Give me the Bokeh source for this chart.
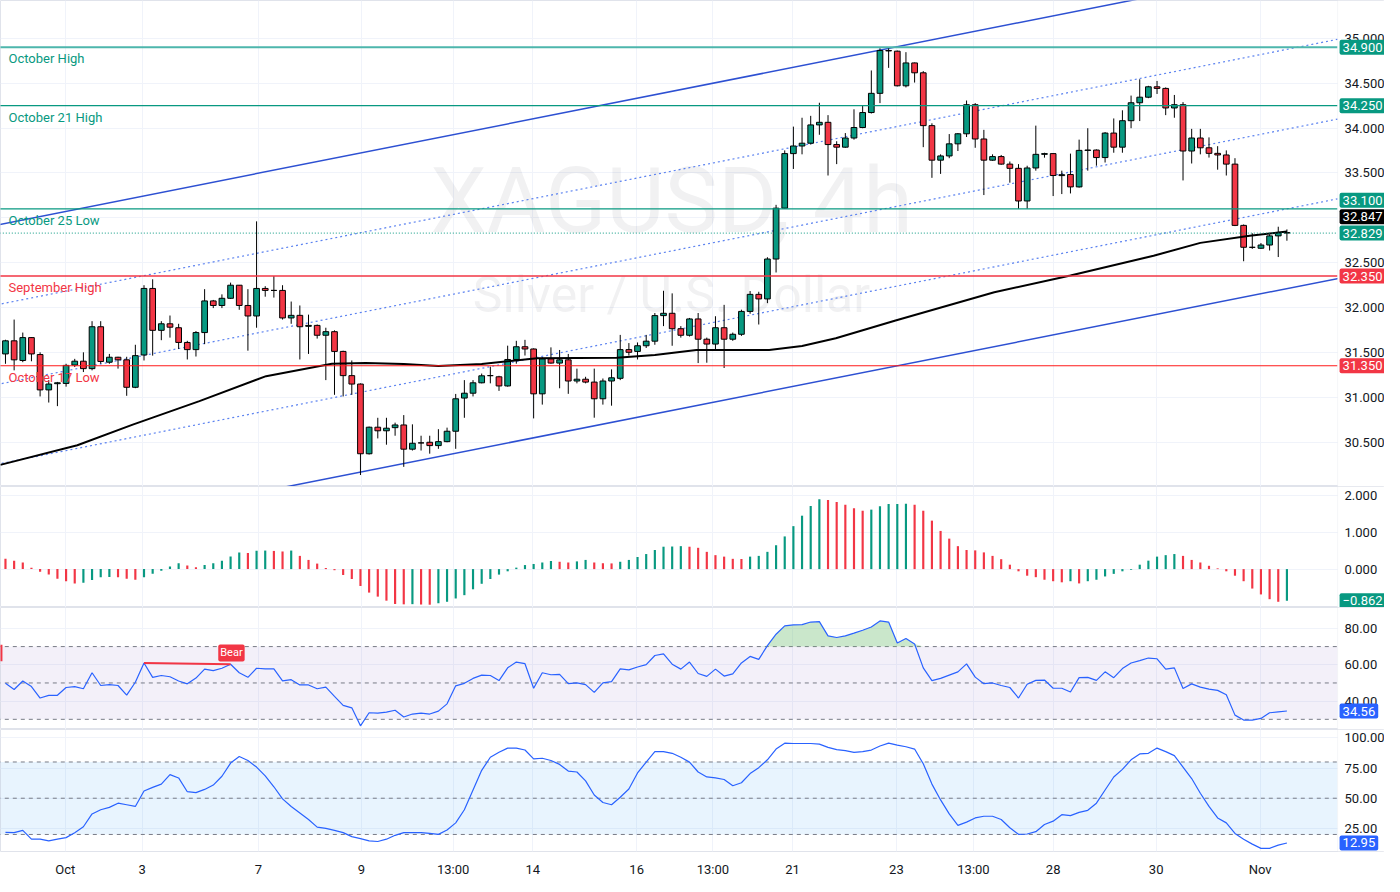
import numpy as np
from bokeh.plotting import figure
from bokeh.layouts import column
from bokeh.models import (Range1d, FixedTicker, Label, BoxAnnotation,
                          ColumnDataSource, NumeralTickFormatter)
from bokeh.embed import file_html
from bokeh.resources import INLINE

# ---------------- data (XAGUSD 4h) ----------------
opens = [31.482, 31.628, 31.409, 31.664, 31.475, 31.081, 31.15, 31.153, 31.358, 31.401,
         31.318, 31.785, 31.39, 31.445, 31.416, 31.11, 31.47, 32.212, 31.745, 31.818,
         31.774, 31.61, 31.53, 31.72, 32.073, 32.022, 32.102, 32.248, 32.022, 31.905,
         32.212, 32.19, 32.19, 31.883, 31.912, 31.79, 31.80, 31.69, 31.73, 31.51,
         31.24, 31.146, 30.369, 30.665, 30.625, 30.66, 30.69, 30.42, 30.49, 30.497,
         30.46, 30.504, 30.62, 30.99, 31.044, 31.16, 31.24, 31.227, 31.125, 31.42,
         31.562, 31.537, 31.037, 31.427, 31.38, 31.416, 31.18, 31.2, 31.168, 30.982,
         31.18, 31.21, 31.53, 31.51, 31.573, 31.624, 31.909, 31.935, 31.763, 31.69,
         31.872, 31.646, 31.592, 31.774, 31.646, 31.701, 31.956, 32.146, 32.095, 32.54,
         33.107, 33.715, 33.80, 33.831, 34.035, 34.064, 33.816, 33.787, 33.889, 34.006,
         34.173, 34.387, 34.864, 34.857, 34.471, 34.726, 34.616, 34.027, 33.642, 33.689,
         33.824, 33.936, 34.26, 33.878, 33.642, 33.682, 33.598, 33.551, 33.187, 33.555,
         33.707, 33.715, 33.47, 33.482, 33.344, 33.751, 33.755, 33.671, 33.944, 33.787,
         34.082, 34.282, 34.344, 34.46, 34.442, 34.224, 34.26, 33.744, 33.889, 33.78,
         33.718, 33.70, 33.598, 32.915, 32.671, 32.66, 32.696, 32.798, 32.835]
highs = [31.64, 31.865, 31.72, 31.67, 31.50, 31.19, 31.17, 31.372, 31.427, 31.50,
         31.847, 31.847, 31.482, 31.45, 31.45, 31.584, 32.248, 32.314, 31.847, 31.91,
         31.818, 31.628, 31.737, 32.204, 32.084, 32.146, 32.277, 32.25, 32.204, 32.96,
         32.237, 32.35, 32.248, 32.066, 32.022, 31.92, 31.81, 31.774, 31.745, 31.518,
         31.409, 31.153, 30.672, 30.77, 30.77, 30.716, 30.80, 30.697, 30.57, 30.57,
         30.643, 30.66, 31.036, 31.19, 31.19, 31.263, 31.34, 31.238, 31.574, 31.628,
         31.639, 31.544, 31.446, 31.555, 31.526, 31.482, 31.318, 31.227, 31.318, 31.208,
         31.31, 31.694, 31.603, 31.61, 31.694, 31.938, 32.186, 32.157, 31.792, 31.883,
         31.938, 31.664, 31.902, 32.029, 31.72, 31.975, 32.183, 32.175, 32.56, 33.144,
         33.751, 34.016, 34.115, 34.136, 34.282, 34.144, 33.853, 33.944, 34.209, 34.253,
         34.642, 34.89, 34.89, 34.864, 34.846, 34.73, 34.635, 34.053, 33.707, 33.933,
         33.944, 34.307, 34.278, 33.98, 33.707, 33.70, 33.627, 33.598, 33.58, 34.027,
         33.725, 33.72, 33.525, 33.715, 33.871, 33.998, 33.762, 33.955, 34.107, 34.198,
         34.362, 34.544, 34.471, 34.525, 34.453, 34.369, 34.289, 33.991, 33.991, 33.896,
         33.798, 33.751, 33.664, 32.925, 32.827, 32.718, 32.816, 32.90, 32.87]
lows = [31.372, 31.299, 31.39, 31.40, 31.008, 30.94, 30.90, 31.117, 31.336, 31.28,
        31.299, 31.372, 31.372, 31.318, 31.015, 31.10, 31.409, 31.463, 31.635, 31.664,
        31.537, 31.42, 31.453, 31.591, 31.993, 31.993, 32.095, 31.974, 31.518, 31.774,
        32.12, 32.11, 31.865, 31.818, 31.42, 31.482, 31.653, 31.19, 31.026, 31.008,
        31.026, 30.132, 30.36, 30.54, 30.47, 30.57, 30.223, 30.405, 30.405, 30.37,
        30.424, 30.497, 30.424, 30.77, 31.008, 31.154, 31.154, 31.07, 31.117, 31.373,
        31.464, 30.763, 30.917, 31.373, 31.099, 31.037, 31.154, 31.154, 30.771, 30.917,
        30.905, 31.19, 31.464, 31.42, 31.548, 31.584, 31.792, 31.573, 31.664, 31.676,
        31.38, 31.384, 31.519, 31.325, 31.628, 31.683, 31.93, 31.81, 32.048, 32.39,
        33.10, 33.544, 33.707, 33.816, 33.925, 33.471, 33.598, 33.78, 33.871, 33.998,
        34.162, 34.278, 34.671, 34.464, 34.453, 34.507, 33.787, 33.445, 33.489, 33.664,
        33.744, 33.90, 33.78, 33.253, 33.635, 33.591, 33.391, 33.10, 33.10, 33.525,
        33.67, 33.242, 33.264, 33.271, 33.336, 33.525, 33.58, 33.616, 33.725, 33.725,
        33.998, 34.078, 34.333, 34.38, 34.144, 34.115, 33.416, 33.605, 33.707, 33.671,
        33.536, 33.471, 32.907, 32.515, 32.653, 32.653, 32.635, 32.562, 32.744]
closes = [31.628, 31.416, 31.664, 31.482, 31.081, 31.146, 31.16, 31.354, 31.401, 31.318,
          31.785, 31.398, 31.445, 31.416, 31.11, 31.463, 32.212, 31.745, 31.818, 31.78,
          31.61, 31.53, 31.72, 32.073, 32.022, 32.102, 32.248, 32.022, 31.905, 32.212,
          32.19, 32.19, 31.883, 31.912, 31.785, 31.80, 31.69, 31.73, 31.51, 31.24,
          31.146, 30.369, 30.665, 30.625, 30.654, 30.69, 30.42, 30.486, 30.49, 30.46,
          30.504, 30.62, 30.982, 31.044, 31.16, 31.238, 31.24, 31.125, 31.42, 31.562,
          31.537, 31.037, 31.427, 31.38, 31.416, 31.18, 31.2, 31.168, 30.982, 31.18,
          31.216, 31.53, 31.50, 31.573, 31.624, 31.909, 31.935, 31.763, 31.69, 31.872,
          31.646, 31.592, 31.774, 31.646, 31.701, 31.956, 32.146, 32.095, 32.54, 33.107,
          33.715, 33.80, 33.831, 34.035, 34.064, 33.816, 33.787, 33.889, 34.006, 34.173,
          34.387, 34.864, 34.86, 34.471, 34.726, 34.616, 34.027, 33.642, 33.689, 33.824,
          33.936, 34.26, 33.878, 33.642, 33.682, 33.598, 33.551, 33.187, 33.555, 33.707,
          33.715, 33.471, 33.48, 33.344, 33.751, 33.755, 33.671, 33.944, 33.787, 34.082,
          34.282, 34.344, 34.46, 34.442, 34.224, 34.26, 33.744, 33.889, 33.78, 33.718,
          33.70, 33.598, 32.915, 32.671, 32.67, 32.696, 32.798, 32.835, 32.829]

macd_hist = [0.28, 0.23, 0.18, 0.04, -0.07, -0.15, -0.26, -0.33, -0.39, -0.375,
             -0.30, -0.22, -0.215, -0.22, -0.26, -0.29, -0.22, -0.13, -0.045, 0.07,
             0.16, 0.10, 0.05, 0.11, 0.16, 0.23, 0.34, 0.45, 0.44, 0.50,
             0.505, 0.495, 0.48, 0.505, 0.36, 0.25, 0.15, 0.03, -0.03, -0.16,
             -0.27, -0.46, -0.64, -0.75, -0.86, -0.95, -0.96, -0.955, -0.965, -0.97,
             -0.93, -0.89, -0.80, -0.71, -0.55, -0.40, -0.27, -0.15, -0.06, 0.04,
             0.11, 0.14, 0.18, 0.22, 0.20, 0.18, 0.21, 0.25, 0.18, 0.16,
             0.155, 0.20, 0.25, 0.33, 0.41, 0.52, 0.61, 0.615, 0.625, 0.61,
             0.58, 0.47, 0.38, 0.34, 0.28, 0.275, 0.34, 0.36, 0.47, 0.65,
             0.89, 1.17, 1.455, 1.72, 1.90, 1.88, 1.83, 1.75, 1.66, 1.59,
             1.62, 1.71, 1.77, 1.775, 1.78, 1.75, 1.59, 1.32, 1.04, 0.83,
             0.625, 0.52, 0.51, 0.455, 0.36, 0.27, 0.12, -0.06, -0.18, -0.22,
             -0.29, -0.33, -0.36, -0.33, -0.39, -0.33, -0.29, -0.20, -0.13, -0.06,
             -0.02, 0.12, 0.23, 0.34, 0.38, 0.41, 0.36, 0.25, 0.18, 0.09,
             0.02, -0.06, -0.18, -0.33, -0.53, -0.69, -0.82, -0.89, -0.862]

rsi = [49.8, 46.4, 51.1, 48.0, 41.7, 43.2, 43.2, 47.5, 48.0, 46.8,
       55.6, 48.6, 49.1, 48.6, 43.3, 50.4, 61.0, 53.1, 54.1, 53.4,
       51.1, 49.5, 52.7, 57.6, 56.8, 58.1, 60.3, 55.6, 53.1, 58.1,
       57.7, 57.7, 51.1, 51.8, 48.9, 48.9, 46.8, 47.7, 42.6, 37.7,
       36.3, 26.4, 33.6, 33.4, 34.0, 35.0, 31.3, 32.9, 33.4, 32.9,
       34.5, 38.5, 48.4, 49.8, 52.5, 54.3, 54.1, 51.3, 58.3, 61.5,
       60.6, 47.1, 55.6, 54.5, 54.7, 49.6, 50.0, 49.1, 44.8, 50.0,
       50.7, 57.7, 57.2, 58.8, 60.1, 65.1, 66.0, 60.3, 57.6, 61.5,
       55.2, 53.6, 57.6, 53.8, 55.0, 61.0, 64.6, 63.0, 70.5, 76.8,
       81.4, 81.9, 82.1, 83.5, 83.7, 75.9, 75.0, 75.9, 77.4, 79.0,
       80.8, 84.1, 83.5, 72.0, 74.5, 71.4, 58.3, 51.3, 52.5, 54.3,
       56.1, 60.5, 53.2, 49.6, 50.0, 48.6, 47.5, 41.7, 49.3, 51.4,
       51.6, 47.1, 47.1, 45.0, 52.9, 53.1, 51.4, 56.1, 52.9, 57.9,
       61.0, 62.3, 63.7, 63.3, 57.6, 58.3, 46.9, 49.5, 47.7, 46.6,
       45.9, 43.5, 32.3, 29.6, 29.6, 30.5, 33.6, 34.1, 34.56]

stoch_k = [21.8, 21.5, 23.4, 16.1, 16.1, 14.7, 16.1, 17.4, 21.5, 26.4,
           37.0, 40.5, 42.4, 45.9, 44.6, 43.2, 56.0, 59.0, 61.7, 69.5,
           66.8, 55.4, 54.6, 57.3, 60.9, 68.2, 79.1, 84.5, 81.2, 75.8,
           68.5, 59.5, 49.5, 43.2, 37.8, 32.4, 26.1, 25.0, 23.4, 21.5,
           18.2, 16.6, 14.7, 14.2, 16.1, 19.3, 21.5, 21.5, 21.5, 20.9,
           20.1, 23.7, 29.6, 40.5, 56.8, 73.1, 83.9, 88.0, 91.5, 91.5,
           89.9, 82.6, 83.1, 81.2, 78.0, 72.5, 71.7, 64.4, 52.7, 46.5,
           44.6, 50.8, 57.6, 70.9, 79.9, 88.6, 88.6, 87.2, 83.9, 79.9,
           71.7, 67.6, 66.8, 65.5, 60.3, 62.8, 70.4, 75.3, 81.8, 90.7,
           95.6, 95.3, 95.3, 95.3, 94.8, 92.1, 90.2, 89.4, 88.0, 88.6,
           89.9, 93.2, 95.6, 94.0, 92.6, 90.7, 78.5, 61.7, 48.6, 37.0,
           27.5, 30.2, 33.7, 35.1, 35.1, 32.4, 25.6, 20.1, 20.4, 22.3,
           28.3, 31.0, 36.4, 35.6, 38.3, 40.0, 45.9, 56.8, 67.6, 73.9,
           81.8, 86.7, 87.2, 91.5, 88.6, 85.3, 75.8, 66.3, 54.1, 43.2,
           33.7, 29.6, 20.9, 16.1, 12.0, 8.5, 8.5, 11.2, 12.95]

# moving average read at sample bars
ma_idx = [-0.6, 8.3, 14.7, 22.4, 30.1, 37.7, 41.6, 46, 50, 55, 61.4, 70.6, 75, 79.8,
          88.2, 92, 95.9, 99.5, 102.8, 114.2, 123, 132.6, 138, 143.7, 148]
ma_val = [30.245, 30.464, 30.694, 30.956, 31.234, 31.372, 31.38, 31.37, 31.347, 31.37,
          31.434, 31.438, 31.47, 31.526, 31.526, 31.57, 31.657, 31.76, 31.854, 32.17,
          32.357, 32.576, 32.72, 32.80, 32.847]

# horizontal levels
level_prices = [34.90, 34.25, 33.10, 32.35, 31.35]
level_names = ["October High", "October 21 High", "October 25 Low", "September High", "October 17 Low"]
last_price = 32.829
ma_last = 32.847

# regression channel (upper line endpoints, width, sub-levels)
channel_idx = [-1, 160]
channel_upper = [32.919, 35.996]
channel_width = 3.557
channel_levels = [0.0, 0.25, 0.5, 0.75, 1.0]

# RSI bearish divergence
div_idx = [16, 26]
div_val = [61.0, 60.3]

x_tick_idx = [6.9, 15.8, 29.2, 41.1, 51.7, 60.9, 72.9, 81.7, 90.9, 102.9, 111.8, 121.0, 132.9, 144.9]
x_tick_labels = ["Oct", "3", "7", "9", "13:00", "14", "16", "13:00", "21", "23", "13:00", "28", "30", "Nov"]

# ---------------- styling ----------------
FONT = "Roboto"
TEXT = "#131722"
GRID = "#f0f3fa"
SEP = "#e0e3eb"
UP = "#089981"
DOWN = "#f23645"
BLUE = "#2962ff"
FW = 1384            # frame covers plot area + price-scale strip
XE = 153.85          # right edge of the plotting area (bar units)

N = len(closes)
idx = np.arange(N)
xr = Range1d(-0.574, 159.27)


def panel(h, y0, y1, ticks, fmt, bottom_axis=False):
    p = figure(frame_width=FW, frame_height=h, x_range=xr, y_range=Range1d(y0, y1),
               output_backend="svg", toolbar_location=None, tools="",
               y_axis_location="right",
               x_axis_location="below" if bottom_axis else None,
               min_border=0)
    p.outline_line_color = SEP
    p.background_fill_color = "white"
    p.border_fill_color = "white"
    ax = p.yaxis[0]
    ax.fixed_location = XE
    ax.ticker = FixedTicker(ticks=ticks)
    ax.formatter = NumeralTickFormatter(format=fmt)
    ax.axis_line_color = None
    ax.major_tick_line_color = None
    ax.minor_tick_line_color = None
    ax.major_tick_out = 0
    ax.major_tick_in = 0
    ax.major_label_standoff = 7
    ax.major_label_text_font = FONT
    ax.major_label_text_font_size = "13px"
    ax.major_label_text_color = TEXT
    p.ygrid.grid_line_color = GRID
    p.xgrid.grid_line_color = GRID
    p.xgrid.ticker = FixedTicker(ticks=x_tick_idx)
    if bottom_axis:
        xa = p.xaxis[0]
        xa.ticker = FixedTicker(ticks=x_tick_idx)
        xa.major_label_overrides = {t: l for t, l in zip(x_tick_idx, x_tick_labels)}
        xa.axis_line_color = None
        xa.major_tick_line_color = None
        xa.minor_tick_line_color = None
        xa.major_tick_out = 0
        xa.major_tick_in = 0
        xa.major_label_standoff = 10
        xa.major_label_text_font = FONT
        xa.major_label_text_font_size = "13px"
        xa.major_label_text_color = TEXT
    return p


def strip(p):
    # blank price-scale strip on the right of the plotting area
    p.add_layout(BoxAnnotation(left=XE, fill_color="white", fill_alpha=1.0,
                               line_color=SEP, line_width=1, level="glyph"))


def tag(p, yval, text, color):
    p.add_layout(Label(x=XE, y=yval, x_offset=2, text=text,
                       text_color="white", text_font=FONT, text_font_size="13px",
                       text_baseline="middle", text_align="left",
                       background_fill_color=color, background_fill_alpha=1.0,
                       padding=3, border_radius=2))


def hline(p, yv, color, width=1.0, dash="solid"):
    p.segment(x0=-1, y0=yv, x1=XE, y1=yv, line_color=color, line_width=width, line_dash=dash)


# ---------------- main price panel ----------------
p1 = panel(486, 30.004, 35.422, [30.5, 31.0, 31.5, 32.0, 32.5, 33.0, 33.5, 34.0, 34.5, 35.0], "0.000")

p1.add_layout(Label(x=XE / 2, y=33.18, text="XAGUSD, 4h", text_align="center",
                    text_baseline="middle", text_font=FONT, text_font_size="90px",
                    text_color=TEXT, text_alpha=0.06, level="underlay"))
p1.add_layout(Label(x=XE / 2, y=32.14, text="Silver / U.S. Dollar",
                    text_align="center", text_baseline="middle", text_font=FONT,
                    text_font_size="50px", text_color=TEXT, text_alpha=0.06, level="underlay"))

# channel
for k in channel_levels:
    ys = [v - k * channel_width for v in channel_upper]
    if k in (0.0, 1.0):
        p1.line(channel_idx, ys, line_color="#2d50d2", line_width=1.5)
    else:
        p1.line(channel_idx, ys, line_color="#5b82f0", line_width=1.2, line_dash="2 3")

# candles
o = np.array(opens); c = np.array(closes)
src = ColumnDataSource(dict(
    x=idx, h=highs, l=lows,
    top=np.maximum(o, c), bottom=np.minimum(o, c),
    color=[UP if cc >= oo else DOWN for oo, cc in zip(opens, closes)]))
p1.segment(x0="x", y0="l", x1="x", y1="h", source=src, line_color="#000000", line_width=1)
p1.vbar(x="x", width=0.66, top="top", bottom="bottom", source=src,
        fill_color="color", line_color="#000000", line_width=1)

# moving average
p1.line(ma_idx, ma_val, line_color="#000000", line_width=2)

# horizontal levels
level_colors = ["#4db6ac", UP, UP, DOWN, "#ff1a1a"]
level_widths = [2, 1.3, 1.3, 1.5, 1.2]
for pr, nm, col, lw in zip(level_prices, level_names, level_colors, level_widths):
    hline(p1, pr, col, lw)
    tcol = DOWN if col in (DOWN, "#ff1a1a") else UP
    p1.add_layout(Label(x=-0.574, y=pr, x_offset=8, text=nm, text_baseline="top",
                        y_offset=-4, text_font=FONT, text_font_size="13px", text_color=tcol))
hline(p1, last_price, UP, 1, "1 2")
strip(p1)

# right price tags
tag_vals = [34.90, 34.25, 33.10, ma_last, last_price, 32.35, 31.35]
tag_pos = [34.90, 34.25, 33.195, 33.01, last_price, 32.35, 31.35]
tag_cols = [UP, UP, UP, "#000000", UP, DOWN, DOWN]
for v, ypos, col in zip(tag_vals, tag_pos, tag_cols):
    tag(p1, ypos, f"{v:.3f}", col)

# ---------------- MACD histogram ----------------
p2 = panel(121, -1.046, 2.25, [0.0, 1.0, 2.0], "0.000")
mh = np.array(macd_hist)
hcol = [UP if i > 0 and mh[i] > mh[i - 1] else DOWN for i in range(N)]
p2.vbar(x=idx, width=0.25, top=mh, bottom=0, fill_color=hcol, line_color=None)
strip(p2)
tag(p2, macd_hist[-1], f"{macd_hist[-1]:.3f}".replace("-", "\u2212"), UP if mh[-1] > mh[-2] else DOWN)

# ---------------- RSI ----------------
p3 = panel(122, 24.4, 91.5, [40, 60, 80], "0.00")
p3.add_layout(BoxAnnotation(left=-1, right=XE, bottom=30, top=70, fill_color="#7e57c2",
                            fill_alpha=0.09, line_color=None, level="underlay"))
for lv in (70, 50, 30):
    hline(p3, lv, "#787b86", 1, "4 4")
r = np.array(rsi)
p3.varea(x=idx, y1=np.full(N, 70.0), y2=np.maximum(r, 70.0), fill_color="#66bb6a", fill_alpha=0.35)
p3.line(idx, rsi, line_color=BLUE, line_width=1.2)
p3.line(div_idx, div_val, line_color=DOWN, line_width=2)
p3.quad(left=-2.0, right=-0.35, bottom=62.0, top=71.0, fill_color=DOWN, line_color=None)
strip(p3)
p3.add_layout(Label(x=div_idx[1] + 0.1, y=66.5, text="Bear", text_align="center",
                    text_baseline="middle", text_font=FONT, text_font_size="11px",
                    text_color="white", background_fill_color=DOWN, background_fill_alpha=1.0,
                    padding=2, border_radius=2))
tag(p3, rsi[-1], f"{rsi[-1]:.2f}", BLUE)

# ---------------- Stochastic ----------------
p4 = panel(122, 5.9, 106.9, [25, 50, 75, 100], "0.00", bottom_axis=True)
p4.add_layout(BoxAnnotation(left=-1, right=XE, bottom=20, top=80, fill_color="#2196f3",
                            fill_alpha=0.1, line_color=None, level="underlay"))
for lv in (80, 50, 20):
    hline(p4, lv, "#787b86", 1, "4 4")
p4.line(idx, stoch_k, line_color=BLUE, line_width=1.2)
strip(p4)
tag(p4, stoch_k[-1], f"{stoch_k[-1]:.2f}", BLUE)

layout = column(p1, p2, p3, p4, spacing=0)
open("out.html", "w").write(file_html(layout, INLINE))
